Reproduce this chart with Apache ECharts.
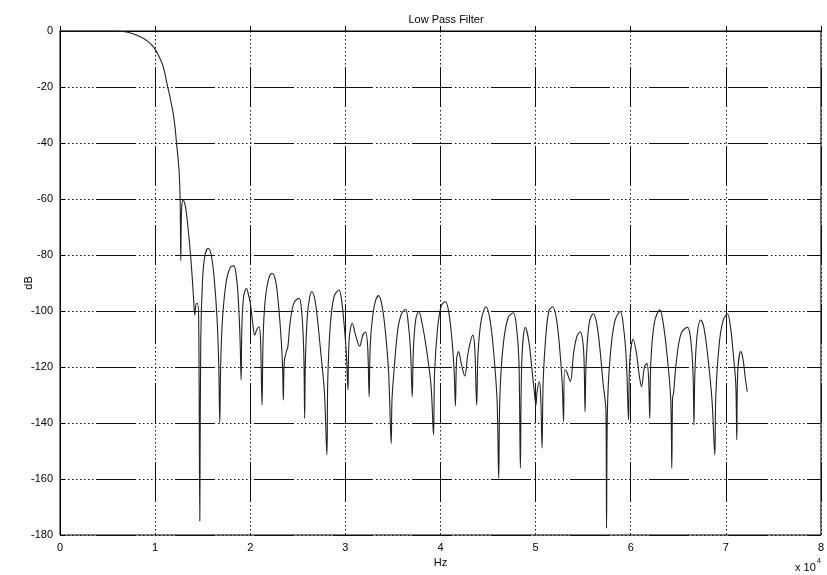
<!DOCTYPE html>
<html>
<head>
<meta charset="utf-8">
<script src="https://cdn.jsdelivr.net/npm/echarts@6/dist/echarts.min.js"></script>
<style>html,body{margin:0;padding:0;background:#fff}#c{width:827px;height:575px}</style>
</head>
<body>
<div id="c"></div>
<script>
// Frequency in units of 10^4 Hz, magnitude in dB
const freq = [0,0.3,0.6,0.665,0.75,0.84,0.92,0.98,1.04,1.085,1.13,1.165,1.19,1.21,1.225,1.24,1.253,1.263,1.27,1.278,1.295,1.32,1.345,1.365,1.39,1.405,1.417,1.43,1.445,1.458,1.47,1.48,1.5,1.525,1.557,1.59,1.62,1.65,1.668,1.68,1.69,1.71,1.75,1.79,1.827,1.855,1.875,1.893,1.904,1.912,1.93,1.96,1.98,2.0,2.025,2.047,2.07,2.093,2.108,2.124,2.135,2.155,2.19,2.229,2.265,2.295,2.325,2.34,2.348,2.358,2.38,2.395,2.42,2.46,2.513,2.54,2.558,2.566,2.572,2.58,2.6,2.625,2.649,2.68,2.71,2.745,2.78,2.806,2.815,2.84,2.88,2.933,2.96,2.99,3.012,3.027,3.04,3.073,3.11,3.15,3.185,3.213,3.235,3.25,3.262,3.29,3.32,3.35,3.385,3.42,3.455,3.482,3.49,3.51,3.55,3.59,3.633,3.66,3.685,3.703,3.715,3.74,3.772,3.81,3.85,3.9,3.927,3.938,3.97,4.01,4.052,4.09,4.125,4.145,4.157,4.17,4.19,4.22,4.255,4.29,4.34,4.36,4.381,4.395,4.43,4.479,4.52,4.56,4.595,4.612,4.625,4.66,4.71,4.766,4.8,4.825,4.84,4.855,4.892,4.93,4.965,4.99,5.004,5.015,5.04,5.055,5.068,5.08,5.11,5.14,5.179,5.22,5.255,5.28,5.294,5.305,5.325,5.365,5.4,5.435,5.47,5.5,5.512,5.52,5.532,5.565,5.606,5.64,5.675,5.71,5.74,5.746,5.755,5.78,5.83,5.89,5.925,5.955,5.977,5.99,6.026,6.06,6.09,6.113,6.145,6.17,6.188,6.2,6.212,6.25,6.306,6.34,6.38,6.42,6.432,6.44,6.45,6.48,6.53,6.597,6.63,6.655,6.665,6.675,6.7,6.737,6.77,6.81,6.855,6.884,6.895,6.93,6.97,7.017,7.05,7.08,7.105,7.115,7.125,7.157,7.18,7.205,7.226];
const dB = [0,0,0,-0.2,-0.8,-2,-3.6,-5.6,-9,-12.7,-19.6,-25,-29.4,-34.5,-40.1,-45,-50.8,-60,-82,-64,-60.4,-63,-70,-77,-88,-96,-101.4,-97.5,-97.3,-103,-175,-110,-88,-80,-77.6,-80,-88,-102,-118,-140,-118,-102,-89,-84.5,-83.9,-88,-96,-110,-124.6,-106,-95,-91.9,-94,-97,-104,-108.6,-106.5,-105.6,-110,-133.6,-110,-97,-89,-86.5,-89,-97,-110,-120,-131.8,-118,-114.5,-113,-104,-97,-95.5,-100,-110,-120,-138.3,-118,-102,-95,-93.1,-96,-104,-116,-129,-151.4,-125,-106,-95,-92.5,-96,-106,-116,-128.2,-110,-104.4,-109,-112.6,-108.5,-107.5,-113,-130.6,-112,-101,-96,-94.5,-98,-107,-122,-147.3,-132,-122,-107,-101,-99.4,-104,-114,-130.6,-114,-103,-100.2,-105,-113,-126.4,-144.3,-122,-106,-98,-96.7,-101,-112,-122,-133.9,-117,-114.5,-119,-123.2,-115,-108.6,-113,-133.6,-115,-103,-98.5,-103,-115,-132,-159.8,-130,-112,-102.5,-100.6,-106,-118,-156.2,-118,-105.8,-111,-122,-130,-133.6,-129,-125.2,-132,-149,-125,-108,-100,-98.5,-103,-114,-126,-139.5,-121,-121.5,-125.2,-115,-109,-107.4,-112,-121,-136,-118,-104,-101,-104,-113,-126,-136,-177.6,-136,-118,-104,-100.2,-106,-118,-138.9,-118,-110.1,-115,-123,-127,-120,-118.7,-124,-138.3,-118,-104,-99.6,-104,-115,-131,-156.2,-131,-129.4,-118,-108,-105.8,-110,-122,-140.7,-122,-108,-103.2,-106,-116,-132,-151.4,-130,-112,-103.5,-101,-106,-116,-126.4,-146,-122,-114.5,-117,-124,-128.8];
const xTicks = [0,1,2,3,4,5,6,7,8];
const yTicks = [0,-20,-40,-60,-80,-100,-120,-140,-160,-180];

const data = freq.map((f, i) => [f, dB[i]]);
const dash = [40, 3];
for (let i = 0; i < 9; i++) dash.push(1.5, 2.5);
const font = 'Liberation Sans, Arial, sans-serif';

const chart = echarts.init(document.getElementById('c'));
chart.setOption({
  animation: false,
  backgroundColor: '#fff',
  title: {
    text: 'Low Pass Filter', left: 441, top: 9, textAlign: 'center',
    textStyle: { fontFamily: font, fontSize: 11, fontWeight: 'normal', color: '#000' }
  },
  grid: { left: 60, right: 5, top: 31, bottom: 40, show: true, borderColor: '#000', borderWidth: 1 },
  xAxis: {
    type: 'value', min: xTicks[0], max: xTicks[xTicks.length - 1], interval: 1,
    name: 'Hz', nameLocation: 'middle', nameGap: 21,
    nameTextStyle: { fontFamily: font, fontSize: 11, color: '#000' },
    axisLine: { lineStyle: { color: '#000', width: 1 } },
    axisTick: { inside: true, length: 5, lineStyle: { color: '#000' } },
    axisLabel: { fontFamily: font, fontSize: 11, color: '#000', margin: 7 },
    splitLine: { show: true, lineStyle: { color: '#111', width: 1, type: dash, dashOffset: 43 } }
  },
  yAxis: {
    type: 'value', min: yTicks[yTicks.length - 1], max: yTicks[0], interval: 20,
    name: 'dB', nameLocation: 'middle', nameGap: 26, nameRotate: 90, nameMoveOverlap: false,
    nameTextStyle: { fontFamily: font, fontSize: 11, color: '#000' },
    axisLine: { show: true, lineStyle: { color: '#000', width: 1 } },
    axisTick: { show: true, inside: true, length: 5, lineStyle: { color: '#000' } },
    axisLabel: { fontFamily: font, fontSize: 11, color: '#000', margin: 7 },
    splitLine: { show: true, lineStyle: { color: '#111', width: 1, type: dash, dashOffset: 43 } }
  },
  graphic: [
    { type: 'text', left: 795, top: 562, style: { text: 'x 10', fontFamily: font, fontSize: 11, fill: '#000' } },
    { type: 'text', left: 817, top: 558, style: { text: '4', fontFamily: font, fontSize: 7, fill: '#000' } }
  ],
  series: [{
    type: 'line', data: data, showSymbol: false, smooth: 0.35,
    lineStyle: { color: '#222', width: 1.1 },
    z: 5
  }]
});
</script>
</body>
</html>
